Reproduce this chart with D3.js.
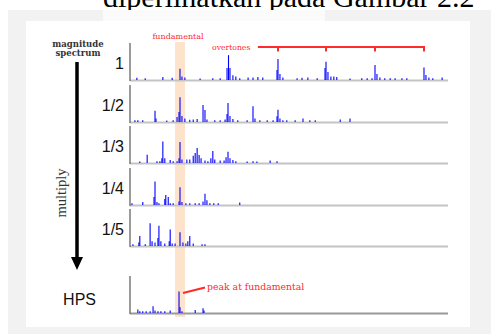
<!DOCTYPE html>
<html>
<head>
<meta charset="utf-8">
<script src="https://cdn.jsdelivr.net/npm/d3@7"></script>
<style>
  html, body { margin: 0; padding: 0; background: #fff; }
  svg { display: block; }
</style>
</head>
<body>
<svg id="chart" width="491" height="334"></svg>
<script>
// ---- Data (frequency in units where the fundamental = 100; magnitude 0..1) ----
const panelLabels = ["1", "1/2", "1/3", "1/4", "1/5", "HPS"];
const fundamental = 100;
const overtoneTicks = [300, 398, 498, 598];
const overtoneStart = 259;

const spec1 = [[12,0.06],[29,0.05],[65,0.08],[84,0.06],[100,0.31],[104,0.1],[110,0.07],[141,0.04],[167,0.05],[182,0.05],
  [196,0.33],[199,0.69],[202,0.33],[208,0.13],[214,0.1],[222,0.05],[239,0.07],[249,0.07],[259,0.08],[269,0.07],
  [298,0.28],[300,0.58],[304,0.17],[310,0.07],[339,0.05],[349,0.06],[361,0.07],[380,0.05],
  [396,0.33],[398,0.51],[402,0.22],[408,0.1],[414,0.1],[420,0.08],[447,0.04],[471,0.05],[482,0.05],[492,0.05],
  [498,0.42],[502,0.17],[508,0.07],[518,0.05],[529,0.05],[539,0.05],[553,0.05],[563,0.05],
  [598,0.35],[602,0.14],[608,0.07],[616,0.05],[635,0.07]];
const spec2 = [[8,0.05],[14,0.05],[24,0.05],[49,0.31],[51,0.1],[73,0.04],[86,0.05],[94,0.14],[98,0.28],[100,0.69],
  [104,0.17],[110,0.1],[120,0.06],[127,0.07],[135,0.08],[147,0.47],[151,0.33],[155,0.07],[171,0.05],[182,0.05],
  [192,0.07],[196,0.22],[198,0.53],[202,0.17],[208,0.08],[218,0.05],[237,0.05],[249,0.44],[253,0.1],[263,0.05],
  [278,0.05],[290,0.05],[298,0.16],[300,0.34],[304,0.1],[310,0.05],[318,0.05],[335,0.05],[351,0.1],[365,0.05],
  [376,0.05],[427,0.07],[447,0.1]];
const spec3 = [[18,0.04],[33,0.23],[53,0.05],[59,0.05],[63,0.13],[65,0.6],[69,0.13],[80,0.08],[86,0.05],[94,0.05],
  [98,0.13],[100,0.58],[104,0.1],[114,0.1],[120,0.1],[127,0.2],[131,0.28],[135,0.42],[139,0.22],[143,0.13],
  [151,0.07],[157,0.05],[163,0.13],[167,0.33],[171,0.1],[182,0.07],[190,0.07],[194,0.16],[198,0.31],[202,0.13],
  [208,0.08],[214,0.05],[237,0.04],[249,0.05],[257,0.04],[284,0.07],[298,0.05]];
const spec4 = [[2,0.05],[24,0.08],[47,0.22],[49,0.65],[53,0.08],[57,0.05],[69,0.17],[71,0.28],[76,0.22],[80,0.05],
  [86,0.05],[98,0.1],[100,0.49],[104,0.08],[112,0.05],[120,0.05],[131,0.05],[139,0.05],[147,0.1],[151,0.31],
  [155,0.13],[161,0.05],[169,0.05],[178,0.05],[222,0.07]];
const spec5 = [[4,0.05],[16,0.1],[18,0.28],[29,0.05],[39,0.63],[43,0.13],[49,0.1],[55,0.22],[57,0.56],[61,0.13],
  [69,0.07],[78,0.13],[80,0.46],[84,0.07],[90,0.07],[100,0.38],[106,0.1],[112,0.07],[116,0.13],[120,0.28],
  [127,0.07],[145,0.05],[151,0.05]];
const hps = [[14,0.1],[18,0.05],[24,0.05],[31,0.05],[39,0.05],[45,0.19],[49,0.07],[55,0.05],[61,0.05],[69,0.05],
  [80,0.07],[98,0.6],[100,0.16],[104,0.05],[131,0.08],[147,0.13],[149,0.07]];
const panelSeries = [spec1, spec2, spec3, spec4, spec5, hps];

// ---- Layout ----
const svg = d3.select("#chart");
const W = 491, H = 334;
const baselines = [80, 122, 163, 205, 246, 313];
const panelH = 36;
const x = d3.scaleLinear().domain([0, 647]).range([131, 448]);

// page background & header text
svg.append("rect").attr("width", W).attr("height", H).attr("fill", "#ffffff");
svg.append("text").attr("x", 103).attr("y", 7)
  .attr("font-family", "Liberation Serif, Times New Roman, serif").attr("font-size", 30)
  .attr("fill", "#000").text("diperlihatkan pada Gambar 2.2");
svg.append("rect").attr("x", 8).attr("y", 10).attr("width", W - 8).attr("height", H - 10).attr("fill", "#f2f2f2");
svg.append("rect").attr("x", 103).attr("y", 10).attr("width", 222).attr("height", 11).attr("fill", "#fbfbfb");
svg.append("rect").attr("x", 26).attr("y", 21).attr("width", 444).attr("height", 306).attr("fill", "#ffffff");

// fundamental band
svg.append("rect")
  .attr("x", x(fundamental) - 5).attr("width", 10)
  .attr("y", 42).attr("height", 275)
  .attr("fill", "#fde3cc");

// panels
panelSeries.forEach((series, i) => {
  const b = baselines[i];
  const y = d3.scaleLinear().domain([0, 1]).range([b, b - panelH]);
  const g = svg.append("g");
  g.append("line").attr("x1", x(0) - 1).attr("x2", 448).attr("y1", b + 0.5).attr("y2", b + 0.5)
    .attr("stroke", i === 5 ? "#999" : "#c4c4c4").attr("stroke-width", 2);
  g.selectAll("line.spike").data(series).join("line").attr("class", "spike")
    .attr("x1", d => x(d[0])).attr("x2", d => x(d[0]))
    .attr("y1", y(0)).attr("y2", d => y(d[1]))
    .attr("stroke", "#0000ff").attr("stroke-width", 1.1);
  g.append("line").attr("x1", 130).attr("x2", 130).attr("y1", b - panelH - 1).attr("y2", b + 1)
    .attr("stroke", "#666").attr("stroke-width", 1.3);
  g.append("text")
    .attr("x", i === 5 ? 96 : 124).attr("y", i === 5 ? b - 14 : b - 17)
    .attr("text-anchor", "end").attr("dominant-baseline", "central")
    .attr("font-family", "Liberation Sans, Arial, sans-serif").attr("font-size", 16)
    .attr("fill", "#111").text(panelLabels[i]);
});

// annotations
const red = "#ff2a2a";
svg.append("text").attr("x", x(fundamental) - 2).attr("y", 39).attr("text-anchor", "middle")
  .attr("font-family", "DejaVu Serif, serif").attr("font-size", 8).attr("fill", red).text("fundamental");
svg.append("text").attr("x", 212).attr("y", 49.5)
  .attr("font-family", "DejaVu Serif, serif").attr("font-size", 7.7).attr("fill", red).text("overtones");
svg.append("line").attr("x1", x(overtoneStart)).attr("x2", x(d3.max(overtoneTicks)) + 1)
  .attr("y1", 47).attr("y2", 47).attr("stroke", red).attr("stroke-width", 2);
svg.selectAll("line.otick").data(overtoneTicks).join("line").attr("class", "otick")
  .attr("x1", d => x(d)).attr("x2", d => x(d)).attr("y1", 47).attr("y2", 51.5)
  .attr("stroke", red).attr("stroke-width", 2);
svg.append("line").attr("x1", x(fundamental) + 3).attr("y1", 293).attr("x2", 205).attr("y2", 287.5)
  .attr("stroke", red).attr("stroke-width", 2);
svg.append("text").attr("x", 207).attr("y", 289.5)
  .attr("font-family", "DejaVu Serif, serif").attr("font-size", 9.3).attr("fill", red).text("peak at fundamental");

// left side labels and arrow
svg.append("text").attr("x", 78).attr("y", 47).attr("text-anchor", "middle")
  .attr("font-family", "DejaVu Serif, serif").attr("font-size", 8.5).attr("font-weight", "bold")
  .attr("fill", "#333").text("magnitude");
svg.append("text").attr("x", 78).attr("y", 56).attr("text-anchor", "middle")
  .attr("font-family", "DejaVu Serif, serif").attr("font-size", 8.5).attr("font-weight", "bold")
  .attr("fill", "#333").text("spectrum");
svg.append("line").attr("x1", 77).attr("x2", 77).attr("y1", 62).attr("y2", 260)
  .attr("stroke", "#000").attr("stroke-width", 3.5);
svg.append("path").attr("d", d3.line()([[71, 257], [83, 257], [77, 270]]) + "Z").attr("fill", "#000");
svg.append("text").attr("transform", "translate(66,193) rotate(-90)").attr("text-anchor", "middle")
  .attr("font-family", "Liberation Serif, Times New Roman, serif").attr("font-size", 14.5)
  .attr("fill", "#333").text("multiply");
</script>
</body>
</html>
